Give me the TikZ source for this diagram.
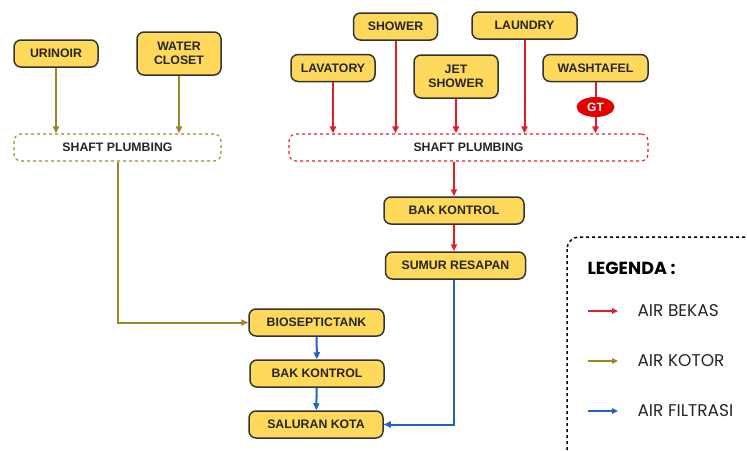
\documentclass[tikz,border=0pt]{standalone}
\usepackage{fontspec}
\setmainfont{Liberation Sans}
\newfontfamily\legendfont{Poppins}
\usepackage{tikz}
\usetikzlibrary{shapes,arrows.meta,positioning,calc}
\definecolor{boxyellow}{HTML}{FFD95C}
\definecolor{boxgray}{HTML}{333333}
\definecolor{pipered}{HTML}{E41E26}
\definecolor{pipeolive}{HTML}{9E8628}
\definecolor{pipeblue}{HTML}{1E63C4}
\tikzset{
    unit/.style={rectangle, rounded corners=7pt, draw=boxgray, fill=boxyellow, line width=1.5pt,
        minimum height=27pt, align=center, font=\fontsize{12.3}{14}\selectfont\bfseries, text=black!85},
    shaft/.style={rectangle, rounded corners=7pt, dashed, line width=1.1pt, fill=white,
        minimum height=27pt, font=\fontsize{12.3}{14}\selectfont\bfseries, text=black!85},
    redpipe/.style={-{Triangle[length=7pt,width=6pt]}, line width=2pt, pipered},
    olivepipe/.style={-{Triangle[length=7pt,width=6pt]}, line width=2pt, pipeolive},
    bluepipe/.style={-{Triangle[length=7pt,width=6pt]}, line width=2pt, pipeblue}
}
\begin{document}
\begin{tikzpicture}[x=1pt, y=-1pt]
        \useasboundingbox (0,0) rectangle (747,450);
        % Air kotor
        \node[unit, minimum width=84pt] (urinoir) at (56,53.5) {URINOIR};
        \node[unit, minimum width=84pt, minimum height=43pt] (closet) at (179,53.5) {WATER\\CLOSET};
        \node[shaft, draw=pipeolive, minimum width=207pt] (shaftL) at (117.5,147.5) {SHAFT PLUMBING};
        \draw[olivepipe] (urinoir) -- (urinoir |- shaftL.north);
        \draw[olivepipe] (closet) -- (closet |- shaftL.north);

        % Air bekas
        \node[unit, minimum width=84pt] (lavatory) at (333,68) {LAVATORY};
        \node[unit, minimum width=84pt] (shower) at (395.5,26.5) {SHOWER};
        \node[unit, minimum width=84pt, minimum height=43pt] (jetshower) at (456,76.5) {JET\\SHOWER};
        \node[unit, minimum width=105pt] (laundry) at (524.5,25.5) {LAUNDRY};
        \node[unit, minimum width=105pt] (washtafel) at (595.5,68) {WASHTAFEL};
        \node[ellipse, fill=red!90!black, text=white, minimum width=38pt, minimum height=20pt,
            inner sep=0pt, font=\fontsize{12}{13}\selectfont\bfseries] (gt) at (595.5,107) {GT};
        \node[shaft, draw=pipered, minimum width=359pt] (shaftR) at (468.5,147.5) {SHAFT PLUMBING};
        \foreach \src in {lavatory,shower,jetshower,laundry} {
            \draw[redpipe] (\src) -- (\src |- shaftR.north);
        }
        \draw[pipered, line width=2pt] (washtafel) -- (gt);
        \draw[redpipe] (gt) -- (gt |- shaftR.north);

        \node[unit, minimum width=140pt] (bakR) at (454,210.5) {BAK KONTROL};
        \node[unit, minimum width=140pt] (sumur) at (455.5,265.5) {SUMUR RESAPAN};
        \draw[redpipe] (shaftR.south -| bakR) -- (bakR);
        \draw[redpipe] (bakR) -- (bakR |- sumur.north);

        % Air filtrasi
        \node[unit, minimum width=135pt] (bioseptic) at (316.5,322.5) {BIOSEPTICTANK};
        \node[unit, minimum width=134pt] (bakL) at (317,373.5) {BAK KONTROL};
        \node[unit, minimum width=134pt] (saluran) at (316,424.5) {SALURAN KOTA};
        \draw[olivepipe] (shaftL) |- (bioseptic);
        \draw[bluepipe] (bioseptic) -- (bakL);
        \draw[bluepipe] (bakL) -- (saluran);
        \draw[bluepipe] (sumur.south -| bakR) |- (saluran);

        % Legenda
        \draw[dashed, line width=1.5pt, rounded corners=12pt] (567,237) rectangle (770,470);
        \node[anchor=west, font=\legendfont\bfseries\fontsize{17.5}{19}\selectfont] (legenda) at (584,268) {LEGENDA :};
        \foreach \nm/\col/\txt/\yy in {bekas/pipered/AIR BEKAS/311, kotor/pipeolive/AIR KOTOR/361, filtrasi/pipeblue/AIR FILTRASI/411} {
            \coordinate (\nm a) at (588,\yy);
            \coordinate (\nm b) at (618,\yy);
            \draw[-{Triangle[length=6pt,width=5.5pt]}, line width=1.6pt, \col] (\nm a) -- (\nm b);
            \node[anchor=west, font=\legendfont\fontsize{17}{19}\selectfont, text=black!85] (\nm) at (634,\yy) {\txt};
        }
\end{tikzpicture}
\end{document}
